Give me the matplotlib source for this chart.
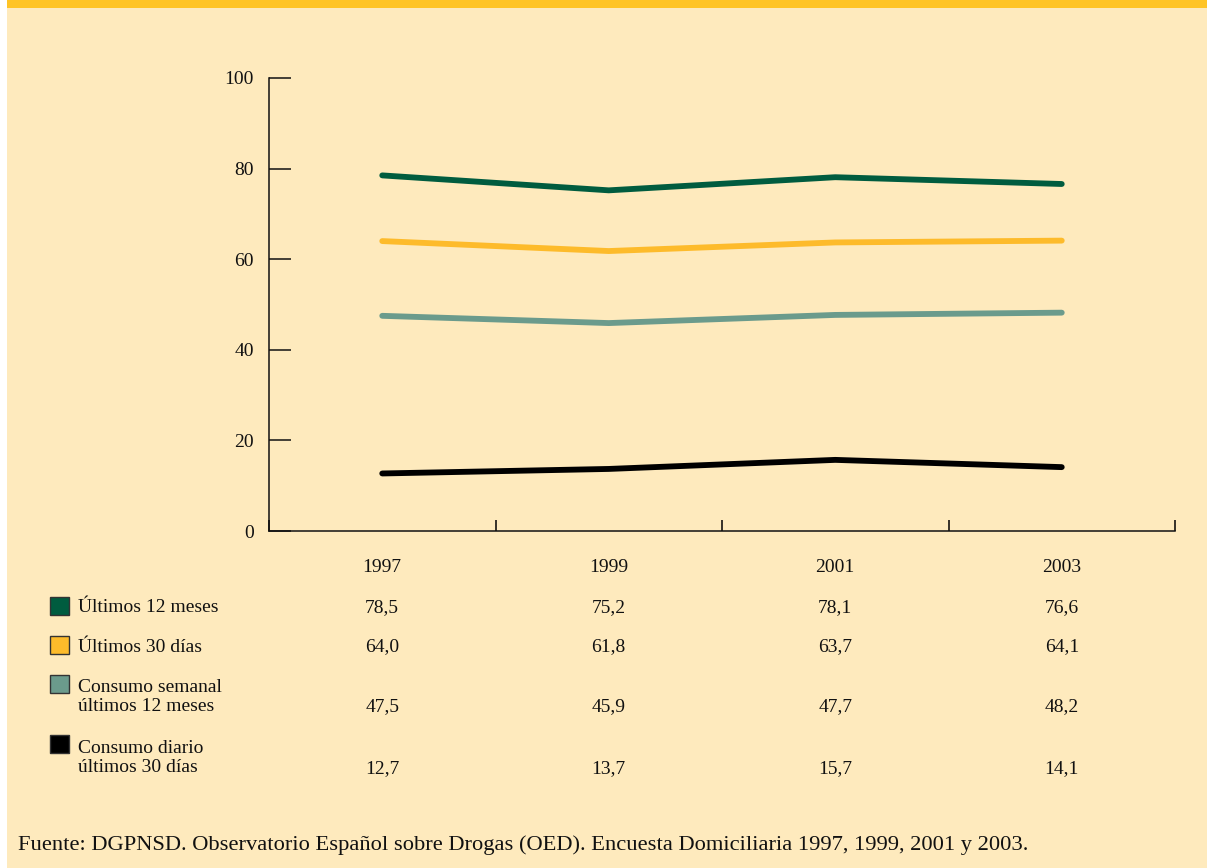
import matplotlib
matplotlib.use('Agg')
import matplotlib.pyplot as plt
import matplotlib.transforms as mtransforms
from matplotlib.patches import Rectangle

years = ['1997', '1999', '2001', '2003']
ultimos_12_meses = [78.5, 75.2, 78.1, 76.6]
ultimos_30_dias = [64.0, 61.8, 63.7, 64.1]
semanal_12_meses = [47.5, 45.9, 47.7, 48.2]
diario_30_dias = [12.7, 13.7, 15.7, 14.1]

series_names = ['Últimos 12 meses', 'Últimos 30 días',
                'Consumo semanal\núltimos 12 meses',
                'Consumo diario\núltimos 30 días']
series_values = [ultimos_12_meses, ultimos_30_dias, semanal_12_meses, diario_30_dias]
colors = ['#005c3f', '#fdbb2b', '#6b9b8c', '#000000']

source = ('Fuente: DGPNSD. Observatorio Español sobre Drogas (OED). '
          'Encuesta Domiciliaria 1997, 1999, 2001 y 2003.')

plt.rcParams['font.family'] = ['Liberation Serif', 'DejaVu Serif']
bg = '#feeabd'
fs = 14

W, H = 1207, 868
fig = plt.figure(figsize=(W / 100, H / 100), dpi=100)
fig.patch.set_facecolor(bg)

# white strip on the left and orange bar on top
fig.patches.append(Rectangle((0, 0), 7 / W, 1, transform=fig.transFigure,
                             facecolor='white', edgecolor='none', zorder=0))
fig.patches.append(Rectangle((7 / W, 1 - 8 / H), 1, 8 / H, transform=fig.transFigure,
                             facecolor='#ffc425', edgecolor='none', zorder=0))

ax = fig.add_axes([269 / W, 1 - 531 / H, 906 / W, 453 / H])
ax.set_facecolor(bg)
x = range(len(years))
for vals, c in zip(series_values, colors):
    ax.plot(x, vals, color=c, linewidth=4.2, solid_capstyle='round')

ax.set_xlim(-0.5, 3.5)
ax.set_ylim(0, 100)
ax.set_yticks([0, 20, 40, 60, 80, 100])
ax.set_xticks([-0.5, 0.5, 1.5, 2.5, 3.5])
ax.set_xticklabels([])
for s in ['top', 'right']:
    ax.spines[s].set_visible(False)
for s in ['left', 'bottom']:
    ax.spines[s].set_linewidth(1.1)
    ax.spines[s].set_color('#111111')
ax.tick_params(axis='y', direction='in', length=16, width=1.1, pad=11,
               labelsize=fs, colors='#111111')
ax.tick_params(axis='x', direction='in', length=8, width=1.1)

# table under the chart
tr = mtransforms.blended_transform_factory(ax.transData, fig.transFigure)
for i, yr in enumerate(years):
    fig.text(i, 1 - 568 / H, yr, transform=tr, ha='center', va='center',
             fontsize=fs, color='#111111')

# (square top y, label centre y, value centre y) in pixels
label_rows = [(597, 608, 608), (636, 647, 647), (675, 697, 707), (735, 758, 769)]
for name, vals, c, (ysq, ylab, yval) in zip(series_names, series_values, colors, label_rows):
    fig.patches.append(Rectangle((50 / W, 1 - (ysq + 18) / H), 19 / W, 18 / H,
                                 transform=fig.transFigure, facecolor=c,
                                 edgecolor='#333333', linewidth=1.0))
    fig.text(78 / W, 1 - ylab / H, name, ha='left', va='center',
             fontsize=fs, color='#111111', linespacing=1.2)
    for i, v in enumerate(vals):
        fig.text(i, 1 - yval / H, f'{v:.1f}'.replace('.', ','), transform=tr,
                 ha='center', va='center', fontsize=fs, color='#111111')

fig.text(18 / W, 1 - 845 / H, source, ha='left', va='center',
         fontsize=16.2, color='#111111')

fig.savefig('out.png', dpi=100, facecolor=bg)
